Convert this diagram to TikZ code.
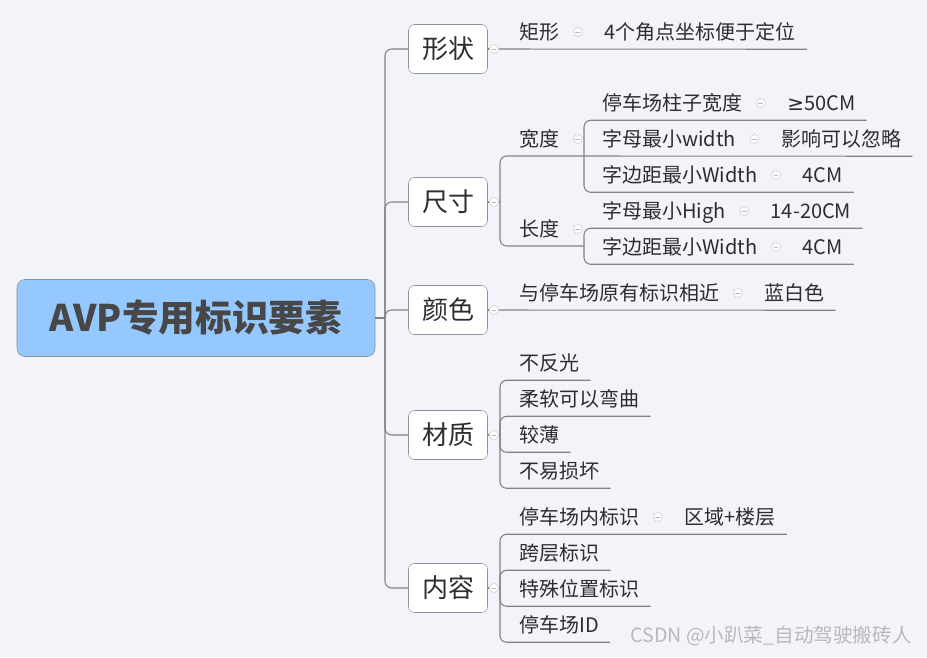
\documentclass[tikz,border=0pt]{standalone}
\usepackage{fontspec}
\setmainfont{Noto Sans CJK SC}
\newfontfamily\simbolo{DejaVu Sans}
\usetikzlibrary{positioning}
\definecolor{fundo}{RGB}{243,244,249}
\definecolor{azul}{RGB}{148,200,255}
\definecolor{borda}{RGB}{140,146,156}
\definecolor{linhacor}{RGB}{130,130,134}
\definecolor{texto}{RGB}{45,45,45}

\begin{document}
\begin{tikzpicture}[
    x=0.75pt, y=-0.75pt,
    raiz/.style={
        draw=borda,
        fill=azul,
        rounded corners=6pt,
        minimum width=268.5pt,
        minimum height=57.75pt,
        font=\fontsize{27.5}{32}\selectfont\bfseries,
        text=black!72
    },
    topico/.style={
        draw=borda,
        fill=white,
        rounded corners=4.5pt,
        minimum width=59.25pt,
        minimum height=36.75pt,
        font=\fontsize{19.5}{22}\selectfont,
        text=texto
    },
    item/.style={
        anchor=west,
        inner xsep=8.25pt,
        inner ysep=0pt,
        text height=13pt,
        text depth=2pt,
        minimum height=25.5pt,
        font=\fontsize{15}{18}\selectfont,
        text=texto
    },
    dobra/.style={
        circle,
        draw=gray!40,
        fill=white,
        inner sep=0pt,
        minimum size=6.75pt,
        path picture={\draw[gray!55, line width=0.5pt]
            ([xshift=-1.8pt]path picture bounding box.center) --
            ([xshift=1.8pt]path picture bounding box.center);}
    },
    linha/.style={
        draw=linhacor,
        line width=0.8pt,
        rounded corners=5pt
    }
]

\path[use as bounding box, fill=fundo] (0,0) rectangle (927,657);

\node[raiz] (avp) at (196,318) {AVP专用标识要素};

\node[topico] (shape) at (448,49) {形状};
\node[topico] (size) at (448,202) {尺寸};
\node[topico] (colour) at (448,310) {颜色};
\node[topico] (material) at (448,435) {材质};
\node[topico] (content) at (448,588) {内容};

\node[dobra] (fshape) at (494,49) {};
\node[dobra] (fsize) at (494,202) {};
\node[dobra] (fcolour) at (494,310) {};
\node[dobra] (fmaterial) at (494,435) {};
\node[dobra] (fcontent) at (494,588) {};

\coordinate (hub) at (385,318);
\draw[linha] (avp) -- (hub);
\foreach \t in {shape,size,colour,material,content} {
    \draw[linha] (hub) |- (\t);
    \draw[linha] (\t) -- (f\t);
}

% 形状
\node[item] (rect) at (508,32) {矩形};
\node[dobra, right=1.9pt of rect] (frect) {};
\node[item, right=7.9pt of frect] (rectv) {4个角点坐标便于定位};
\draw[linha] (fshape) -- (rectv.south east);

% 尺寸
\coordinate (sizeb) at (500,202);
\node[item] (width) at (508,139) {宽度};
\node[dobra, right=1.9pt of width] (fwidth) {};
\coordinate (widthb) at (584,156);

\node[item] (pillar) at (591,103) {停车场柱子宽度};
\node[dobra, right=1.9pt of pillar] (fpillar) {};
\node[item, right=7.9pt of fpillar] (pillarv) {{\simbolo ≥}50CM};

\node[item] (letterw) at (591,139) {字母最小width};
\node[dobra, right=1.9pt of letterw] (fletterw) {};
\node[item, right=7.9pt of fletterw] (letterwv) {影响可以忽略};

\node[item] (marginw) at (591,175) {字边距最小Width};
\node[dobra, right=1.9pt of marginw] (fmarginw) {};
\node[item, right=7.9pt of fmarginw] (marginwv) {4CM};

\node[item] (length) at (508,229) {长度};
\node[dobra, right=1.9pt of length] (flength) {};
\coordinate (lengthb) at (584,246);

\node[item] (letterh) at (591,211) {字母最小High};
\node[dobra, right=1.9pt of letterh] (fletterh) {};
\node[item, right=7.9pt of fletterh] (letterhv) {14-20CM};

\node[item] (marginl) at (591,247) {字边距最小Width};
\node[dobra, right=1.9pt of marginl] (fmarginl) {};
\node[item, right=7.9pt of fmarginl] (marginlv) {4CM};

\draw[linha] (fsize) -- (sizeb);
\draw[linha] (sizeb) |- (widthb);
\draw[linha] (sizeb) |- (lengthb);
\draw[linha] (widthb) |- (pillarv.south east);
\draw[linha] (widthb) -- (letterwv.south east);
\draw[linha] (widthb) |- (marginwv.south east);
\draw[linha] (lengthb) |- (letterhv.south east);
\draw[linha] (lengthb) |- (marginlv.south east);

% 颜色
\node[item] (similar) at (508,293) {与停车场原有标识相近};
\node[dobra, right=1.9pt of similar] (fsimilar) {};
\node[item, right=7.9pt of fsimilar] (similarv) {蓝白色};
\draw[linha] (fcolour) -- (similarv.south east);

% 材质
\coordinate (materialb) at (500,435);
\node[item] (norefl) at (508,363) {不反光};
\node[item] (soft) at (508,399) {柔软可以弯曲};
\node[item] (thin) at (508,435) {较薄};
\node[item] (durable) at (508,471) {不易损坏};
\draw[linha] (fmaterial) -- (materialb);
\foreach \i in {norefl,soft,thin,durable}
    \draw[linha] (materialb) |- (\i.south east);

% 内容
\coordinate (contentb) at (500,588);
\node[item] (inside) at (508,517) {停车场内标识};
\node[dobra, right=1.9pt of inside] (finside) {};
\node[item, right=7.9pt of finside] (insidev) {区域+楼层};
\node[item] (cross) at (508,553) {跨层标识};
\node[item] (special) at (508,589) {特殊位置标识};
\node[item] (lotid) at (508,625) {停车场ID};
\draw[linha] (fcontent) -- (contentb);
\foreach \i in {insidev,cross,special,lotid}
    \draw[linha] (contentb) |- (\i.south east);

\node[text=gray!55, font=\fontsize{14.7}{17}\selectfont] (mark) at (771,636) {CSDN @小趴菜\_自动驾驶搬砖人};

\end{tikzpicture}
\end{document}
